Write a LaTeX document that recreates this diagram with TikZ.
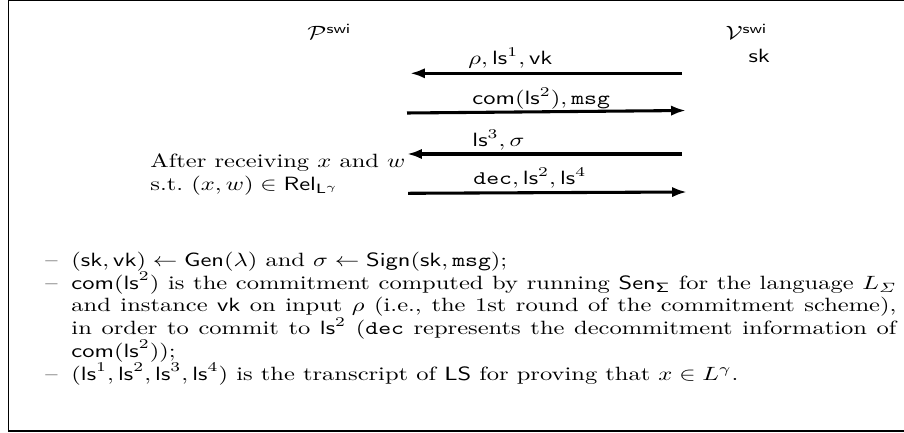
\documentclass[tikz,border=0pt]{standalone}
\usepackage{amsmath}
\usetikzlibrary{arrows.meta}
\newcommand{\itemdash}{\makebox[10.6pt][l]{--}}
\newcommand{\fullline}[1]{\makebox[336.7pt][s]{#1}}
\begin{document}
\begin{tikzpicture}[x=0.5208pt,y=-0.5208pt,
  txt/.style={inner sep=0pt, anchor=base west, xscale=1.276, transform shape},
  msgarrow/.style={line width=1.6pt, -{Latex[length=7.8pt,width=5.4pt]}},
  frameline/.style={line width=0.7pt}]
\useasboundingbox (0,0) rectangle (904,433);
% open frame (left, top, bottom)
\draw[frameline] (904,0.8) -- (8.5,0.8) -- (8.5,431) -- (904,431);

% parties
\node[txt] (P) at (307,40) {$\mathcal{P}^{\mathsf{swi}}$};
\node[txt] (V) at (725,40) {$\mathcal{V}^{\mathsf{swi}}$};
\node[txt] (sk) at (748,63) {$\mathsf{sk}$};

% prover input
\node[txt] (pre1) at (150,168) {After receiving $x$ and $w$};
\node[txt] (pre2) at (150,191) {s.t.\ $(x,w)\in\mathsf{Rel}_{\mathsf{L}^{\gamma}}$};

% message end points
\coordinate (v1) at (682,73.3);  \coordinate (p1) at (410,73.3);
\coordinate (p2) at (407,113);   \coordinate (v2) at (686,110.5);
\coordinate (v3) at (682,154);   \coordinate (p3) at (407,154);
\coordinate (p4) at (408,193.3); \coordinate (v4) at (687,192);

\draw[msgarrow] (v1) -- (p1);
\draw[msgarrow] (p2) -- (v2);
\draw[msgarrow] (v3) -- (p3);
\draw[msgarrow] (p4) -- (v4);

% message labels
\node[txt] (m1) at (468,65) {$\rho, \mathsf{ls}^1, \mathsf{vk}$};
\node[txt] (m2) at (472,105) {$\mathsf{com}(\mathsf{ls}^2), \mathtt{msg}$};
\node[txt] (m3) at (472,146.7) {$\mathsf{ls}^3, \sigma$};
\node[txt] (m4) at (473,185) {$\mathtt{dec}, \mathsf{ls}^2, \mathsf{ls}^4$};

% notes, one node per printed line
\node[txt] (n1) at (45,266.5) {\itemdash$(\mathsf{sk},\mathsf{vk})\leftarrow\mathsf{Gen}(\lambda)$ and $\sigma\leftarrow\mathsf{Sign}(\mathsf{sk},\mathtt{msg})$;};
\node[txt] (n2) at (45,289.3) {\itemdash\fullline{$\mathsf{com}(\mathsf{ls}^2)$ is the commitment computed by running $\mathsf{Sen}_{\mathsf{\Sigma}}$ for the language $L_{\varSigma}$}};
\node[txt] (n3) at (71,312) {\fullline{and instance $\mathsf{vk}$ on input $\rho$ (i.e., the 1st round of the commitment scheme),}};
\node[txt] (n4) at (71,334.7) {\fullline{in order to commit to $\mathsf{ls}^2$ ($\mathtt{dec}$ represents the decommitment information of}};
\node[txt] (n5) at (71,357.5) {$\mathsf{com}(\mathsf{ls}^2)$);};
\node[txt] (n6) at (45,380.3) {\itemdash$(\mathsf{ls}^1,\mathsf{ls}^2,\mathsf{ls}^3,\mathsf{ls}^4)$ is the transcript of $\mathsf{LS}$ for proving that $x\in L^{\gamma}$.};
\end{tikzpicture}
\end{document}
